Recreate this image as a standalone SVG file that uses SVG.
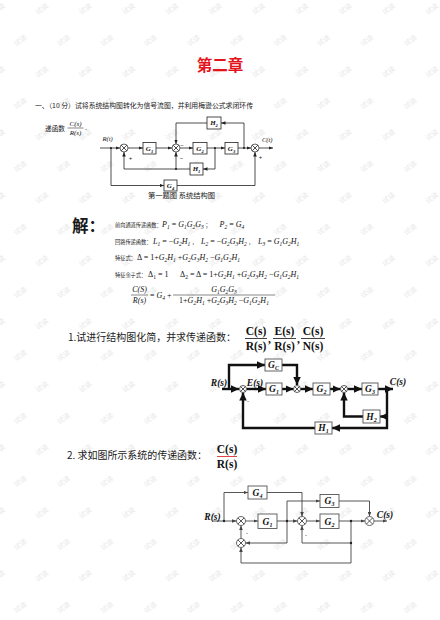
<svg xmlns="http://www.w3.org/2000/svg" width="440" height="620" viewBox="0 0 440 620">
<defs>
<style>
.cn{font-family:"Noto Sans CJK SC","Noto Sans CJK JP",sans-serif;fill:#1a1a1a}
.mi{font-family:"Liberation Serif","DejaVu Serif",serif;font-style:italic;fill:#111}
.up{font-style:normal}
.m8{font-size:8px}
.s8{font-size:5.5px;baseline-shift:-2px}
.m7{font-size:7px}
.s7{font-size:4.8px;baseline-shift:-1.8px}
.lb1{font-family:"Liberation Serif",serif;font-style:italic;font-weight:bold;font-size:7px;text-anchor:middle;fill:#111}
.sl1{font-size:4.6px;baseline-shift:-1.6px}
.lb2{font-family:"Liberation Serif",serif;font-style:italic;font-weight:bold;font-size:9.5px;text-anchor:middle;fill:#111}
.sl2{font-size:6px;baseline-shift:-2.2px}
.hd{font-family:"Liberation Serif",serif;font-weight:bold;font-size:11.5px;text-anchor:middle;fill:#111}
.box1{fill:#fff;stroke:#222;stroke-width:0.8}
.box2{fill:#fff;stroke:#555;stroke-width:0.9}
.box3{fill:#fff;stroke:#555;stroke-width:0.9}
.w1{fill:none;stroke:#222;stroke-width:0.8}
.w2{fill:none;stroke:#111;stroke-width:2.4}
.w3{fill:none;stroke:#444;stroke-width:0.9}
.sum1{fill:#fff;stroke:#222;stroke-width:0.7}
.sum2{fill:#fff;stroke:#333;stroke-width:0.8}
.sum3{fill:#fff;stroke:#444;stroke-width:0.8}
.sg{font-family:"Liberation Sans",sans-serif;font-size:6px;fill:#222;text-anchor:middle}
.dot{fill:#222}
.wm{font-family:"Noto Sans CJK SC",sans-serif;font-size:7px;fill:#e6e6e6;text-anchor:middle;dominant-baseline:central}
</style>
<marker id="a1" viewBox="0 0 10 10" refX="10" refY="5" markerUnits="userSpaceOnUse" markerWidth="4.5" markerHeight="3.6" preserveAspectRatio="none" orient="auto"><path d="M0,0L10,5L0,10z" fill="#222"/></marker>
<marker id="a2" viewBox="0 0 10 10" refX="10" refY="5" markerUnits="userSpaceOnUse" markerWidth="8" markerHeight="7.5" preserveAspectRatio="none" orient="auto"><path d="M0,0L10,5L0,10z" fill="#111"/></marker>
<marker id="a3" viewBox="0 0 10 10" refX="10" refY="5" markerUnits="userSpaceOnUse" markerWidth="4.5" markerHeight="3.6" preserveAspectRatio="none" orient="auto"><path d="M0,0L10,5L0,10z" fill="#444"/></marker>
<pattern id="wmp" patternUnits="userSpaceOnUse" x="0" y="0" width="43.33" height="63">
<text class="wm" transform="translate(20,40) rotate(-35)">试读</text>
<text class="wm" transform="translate(41.67,8.5) rotate(-35)">试读</text>
<text class="wm" transform="translate(-1.67,8.5) rotate(-35)">试读</text>
</pattern>
</defs>
<rect width="440" height="620" fill="#fff"/>
<rect id="watermark" width="440" height="620" fill="url(#wmp)"/>

<text id="title" x="220" y="70.5" text-anchor="middle" font-family="'Noto Sans CJK SC',sans-serif" font-weight="bold" font-size="15.5" fill="#e3141b">第二章</text>

<g id="problem1-text">
<text class="cn" x="35" y="107.5" font-size="6.7" textLength="218" lengthAdjust="spacingAndGlyphs">一、（10 分）试将系统结构图转化为信号流图，并利用梅逊公式求闭环传</text>
<text class="cn" x="45" y="131" font-size="6.7">递函数</text>
<text class="mi m7" x="75.5" y="125.5" text-anchor="middle">C(s)</text>
<line x1="67.5" y1="128" x2="83.5" y2="128" stroke="#111" stroke-width="0.5"/>
<text class="mi m7" x="75.5" y="135" text-anchor="middle">R(s)</text>
<text class="mi m8 up" x="85" y="130">.</text>
</g>

<!-- Diagram 1 -->
<g id="d1-connectors">
<path class="w1" d="M100,148H120" marker-end="url(#a1)"/>
<path class="w1" d="M111,148V185.5H164" marker-end="url(#a1)"/>
<path class="w1" d="M177,185.5H255V152" marker-end="url(#a1)"/>
<path class="w1" d="M128,148H143" marker-end="url(#a1)"/>
<path class="w1" d="M156,148H172" marker-end="url(#a1)"/>
<path class="w1" d="M180,148H193" marker-end="url(#a1)"/>
<path class="w1" d="M207,148H225" marker-end="url(#a1)"/>
<path class="w1" d="M238,148H251" marker-end="url(#a1)"/>
<path class="w1" d="M259,148H273" marker-end="url(#a1)"/>
<path class="w1" d="M244,148V123H221" marker-end="url(#a1)"/>
<path class="w1" d="M207,123H176V144" marker-end="url(#a1)"/>
<path class="w1" d="M215,148V169H203" marker-end="url(#a1)"/>
<path class="w1" d="M190,169H124V152" marker-end="url(#a1)"/>
<path class="w1" d="M176,169V152" marker-end="url(#a1)"/>
<circle class="dot" cx="111" cy="148" r="1.1"/>
<circle class="dot" cx="215" cy="148" r="1.1"/>
<circle class="dot" cx="244" cy="148" r="1.1"/>
<circle class="dot" cx="176" cy="169" r="1.1"/>
</g>
<g id="d1-sum1"><circle class="sum1" cx="124" cy="148" r="4"/><path class="w1" d="M121.2,145.2L126.8,150.8M126.8,145.2L121.2,150.8" stroke-width="0.6"/></g>
<g id="d1-sum2"><circle class="sum1" cx="176" cy="148" r="4"/><path class="w1" d="M173.2,145.2L178.8,150.8M178.8,145.2L173.2,150.8" stroke-width="0.6"/></g>
<g id="d1-sum3"><circle class="sum1" cx="255" cy="148" r="4"/><path class="w1" d="M252.2,145.2L257.8,150.8M257.8,145.2L252.2,150.8" stroke-width="0.6"/></g>
<g id="d1-G1"><rect class="box1" x="143" y="142.5" width="13" height="11.5"/><text class="lb1" x="149.5" y="150.5">G<tspan class="sl1">1</tspan></text></g>
<g id="d1-G2"><rect class="box1" x="193" y="142.5" width="14" height="11.5"/><text class="lb1" x="200" y="150.5">G<tspan class="sl1">2</tspan></text></g>
<g id="d1-G3"><rect class="box1" x="225" y="142.5" width="13" height="11.5"/><text class="lb1" x="231.5" y="150.5">G<tspan class="sl1">3</tspan></text></g>
<g id="d1-H2"><rect class="box1" x="207" y="117" width="14" height="12"/><text class="lb1" x="214" y="125.3">H<tspan class="sl1">2</tspan></text></g>
<g id="d1-H1"><rect class="box1" x="190" y="163" width="13" height="12"/><text class="lb1" x="196.5" y="171.3">H<tspan class="sl1">1</tspan></text></g>
<g id="d1-G4"><rect class="box1" x="164" y="180" width="13" height="11"/><text class="lb1" x="170.5" y="187.8">G<tspan class="sl1">4</tspan></text></g>
<g id="d1-labels">
<text class="mi" font-size="6.5" x="102.5" y="140.5">R(t)</text>
<text class="mi" font-size="6.5" x="262" y="141.5">C(t)</text>
<text class="sg" x="130.5" y="159.5">+</text>
<text class="sg" x="182" y="146.5">−</text>
<text class="sg" x="181.5" y="159.5">−</text>
<text class="sg" x="260.5" y="158.5">+</text>
</g>
<text class="cn" x="148" y="197.5" font-size="7" textLength="67" lengthAdjust="spacingAndGlyphs">第一题图  系统结构图</text>

<!-- Solution -->
<g id="solution">
<text class="cn" x="72" y="232" font-size="16.5" font-weight="bold" fill="#111">解：</text>
<text class="cn" x="115" y="227" font-size="5.2">前向通道传递函数：</text>
<text class="mi m8" x="162" y="227">P<tspan class="s8">1</tspan> <tspan class="up">=</tspan> G<tspan class="s8">1</tspan>G<tspan class="s8">2</tspan>G<tspan class="s8">3</tspan></text>
<text class="cn" x="205.5" y="227" font-size="5.2">；</text>
<text class="mi m8" x="219.5" y="227">P<tspan class="s8">2</tspan> <tspan class="up">=</tspan> G<tspan class="s8">4</tspan></text>

<text class="cn" x="115" y="244" font-size="5.2">回路传递函数：</text>
<text class="mi m8" x="153" y="244">L<tspan class="s8">1</tspan> <tspan class="up">= −</tspan>G<tspan class="s8">2</tspan>H<tspan class="s8">1</tspan></text>
<text class="cn" x="192" y="244" font-size="5.2">，</text>
<text class="mi m8" x="201" y="244">L<tspan class="s8">2</tspan> <tspan class="up">= −</tspan>G<tspan class="s8">2</tspan>G<tspan class="s8">3</tspan>H<tspan class="s8">2</tspan></text>
<text class="cn" x="248.5" y="244" font-size="5.2">，</text>
<text class="mi m8" x="258" y="244">L<tspan class="s8">3</tspan> <tspan class="up">=</tspan> G<tspan class="s8">1</tspan>G<tspan class="s8">2</tspan>H<tspan class="s8">1</tspan></text>

<text class="cn" x="115" y="260" font-size="5.2">特征式：</text>
<text class="mi m8" x="137" y="260"><tspan class="up">Δ = 1+</tspan>G<tspan class="s8">2</tspan>H<tspan class="s8">1</tspan> <tspan class="up">+</tspan>G<tspan class="s8">2</tspan>G<tspan class="s8">3</tspan>H<tspan class="s8">2</tspan> <tspan class="up">−</tspan>G<tspan class="s8">1</tspan>G<tspan class="s8">2</tspan>H<tspan class="s8">1</tspan></text>

<text class="cn" x="115" y="277" font-size="5.2">特征余子式：</text>
<text class="mi m8 up" x="148" y="277">Δ<tspan class="s8">1</tspan> = 1</text>
<text class="mi m8" x="180" y="277"><tspan class="up">Δ</tspan><tspan class="s8 up">2</tspan><tspan class="up"> = Δ = 1+</tspan>G<tspan class="s8">2</tspan>H<tspan class="s8">1</tspan> <tspan class="up">+</tspan>G<tspan class="s8">2</tspan>G<tspan class="s8">3</tspan>H<tspan class="s8">2</tspan> <tspan class="up">−</tspan>G<tspan class="s8">1</tspan>G<tspan class="s8">2</tspan>H<tspan class="s8">1</tspan></text>

<text class="mi m8" x="139.5" y="292" text-anchor="middle">C(S)</text>
<line x1="131" y1="295" x2="148" y2="295" stroke="#111" stroke-width="0.5"/>
<text class="mi m8" x="139.5" y="303" text-anchor="middle">R(s)</text>
<text class="mi m8" x="150" y="297.8"><tspan class="up">=</tspan> G<tspan class="s8">4</tspan><tspan class="up"> +</tspan></text>
<text class="mi m8" x="224" y="292" text-anchor="middle">G<tspan class="s8">1</tspan>G<tspan class="s8">2</tspan>G<tspan class="s8">3</tspan></text>
<line x1="173" y1="295" x2="275" y2="295" stroke="#111" stroke-width="0.5"/>
<text class="mi m8" x="224" y="303" text-anchor="middle"><tspan class="up">1+</tspan>G<tspan class="s8">2</tspan>H<tspan class="s8">1</tspan> <tspan class="up">+</tspan>G<tspan class="s8">2</tspan>G<tspan class="s8">3</tspan>H<tspan class="s8">2</tspan> <tspan class="up">−</tspan>G<tspan class="s8">1</tspan>G<tspan class="s8">2</tspan>H<tspan class="s8">1</tspan></text>
</g>

<!-- Problem 1 -->
<g id="problem2-text">
<text class="cn" x="68" y="341" font-size="10" textLength="168" lengthAdjust="spacingAndGlyphs" fill="#222">1.试进行结构图化简，并求传递函数：</text>
<text class="hd" x="256" y="335">C(s)</text>
<line x1="245" y1="338.5" x2="267" y2="338.5" stroke="#111" stroke-width="0.8"/>
<text class="hd" x="256" y="350">R(s)</text>
<text class="hd" x="269.5" y="342.5">,</text>
<text class="hd" x="284.5" y="335">E(s)</text>
<line x1="273" y1="338.5" x2="296" y2="338.5" stroke="#111" stroke-width="0.8"/>
<text class="hd" x="284.5" y="350">R(s)</text>
<text class="hd" x="298.5" y="342.5">,</text>
<text class="hd" x="313" y="335">C(s)</text>
<line x1="301" y1="338.5" x2="325" y2="338.5" stroke="#111" stroke-width="0.8"/>
<text class="hd" x="313" y="350">N(s)</text>
</g>

<!-- Diagram 2 -->
<g id="d2-connectors">
<path class="w2" d="M222,389H239" marker-end="url(#a2)"/>
<path class="w2" d="M229,389V365H265" marker-end="url(#a2)"/>
<path class="w2" d="M282,365H297V385" marker-end="url(#a2)"/>
<path class="w2" d="M246.5,389H266" marker-end="url(#a2)"/>
<path class="w2" d="M282,389H293.5" marker-end="url(#a2)"/>
<path class="w2" d="M300.5,389H313" marker-end="url(#a2)"/>
<path class="w2" d="M330,389H340.5" marker-end="url(#a2)"/>
<path class="w2" d="M347.5,389H362" marker-end="url(#a2)"/>
<path class="w2" d="M378,389H393" marker-end="url(#a2)"/>
<path class="w2" d="M387,389V428H332" marker-end="url(#a2)"/>
<path class="w2" d="M387,416.5H380" marker-end="url(#a2)"/>
<path class="w2" d="M363,416.5H344V392.5" marker-end="url(#a2)"/>
<path class="w2" d="M315,428H243V392.5" marker-end="url(#a2)"/>
</g>
<g id="d2-sum1"><circle class="sum2" cx="243" cy="389" r="3.5"/><path class="w1" d="M240.5,386.5L245.5,391.5M245.5,386.5L240.5,391.5" stroke-width="0.6"/></g>
<g id="d2-sum2"><circle class="sum2" cx="297" cy="389" r="3.5"/><path class="w1" d="M294.5,386.5L299.5,391.5M299.5,386.5L294.5,391.5" stroke-width="0.6"/></g>
<g id="d2-sum3"><circle class="sum2" cx="344" cy="389" r="3.5"/><path class="w1" d="M341.5,386.5L346.5,391.5M346.5,386.5L341.5,391.5" stroke-width="0.6"/></g>
<g id="d2-Gc"><rect class="box2" x="265" y="359" width="17" height="12"/><text class="lb2" x="273.5" y="368">G<tspan class="sl2">C</tspan></text></g>
<g id="d2-G1"><rect class="box2" x="266" y="383" width="16" height="12"/><text class="lb2" x="274" y="392">G<tspan class="sl2">1</tspan></text></g>
<g id="d2-G2"><rect class="box2" x="313" y="383" width="17" height="12"/><text class="lb2" x="321.5" y="392">G<tspan class="sl2">2</tspan></text></g>
<g id="d2-G3"><rect class="box2" x="362" y="383" width="16" height="12"/><text class="lb2" x="370" y="392">G<tspan class="sl2">3</tspan></text></g>
<g id="d2-H2"><rect class="box2" x="363" y="410" width="17" height="13"/><text class="lb2" x="371.5" y="419.5">H<tspan class="sl2">2</tspan></text></g>
<g id="d2-H1"><rect class="box2" x="315" y="422" width="17" height="12"/><text class="lb2" x="323.5" y="431">H<tspan class="sl2">1</tspan></text></g>
<g id="d2-labels">
<text class="lb2" x="219" y="385.5">R(s)</text>
<text class="lb2" x="255" y="385.5">E(s)</text>
<text class="lb2" x="398" y="385">C(s)</text>
<text class="sg" x="248" y="403">-</text>
</g>

<!-- Problem 2 -->
<g id="problem3-text">
<text class="cn" x="67" y="459" font-size="10" textLength="140" lengthAdjust="spacingAndGlyphs" fill="#222">2. 求如图所示系统的传递函数：</text>
<text class="hd" x="227" y="452.5" font-size="11" fill="#d8141c">C(s)</text>
<line x1="217" y1="456.5" x2="237" y2="456.5" stroke="#d8141c" stroke-width="0.8"/>
<text class="hd" x="227" y="468" font-size="11" fill="#d8141c">R(s)</text>
</g>

<!-- Diagram 3 -->
<g id="d3-connectors">
<path class="w3" d="M212,521H236.5" marker-end="url(#a3)"/>
<path class="w3" d="M224,521V492.5H248" marker-end="url(#a3)"/>
<path class="w3" d="M267,492.5H302V516.5" marker-end="url(#a3)"/>
<path class="w3" d="M245.5,521H258" marker-end="url(#a3)"/>
<path class="w3" d="M277,521H297.5" marker-end="url(#a3)"/>
<path class="w3" d="M287,521V501H320" marker-end="url(#a3)"/>
<path class="w3" d="M287,521V543H245.5" marker-end="url(#a3)"/>
<path class="w3" d="M306.5,521H320" marker-end="url(#a3)"/>
<path class="w3" d="M339,521H365" marker-end="url(#a3)"/>
<path class="w3" d="M339,501H369.5V516.5" marker-end="url(#a3)"/>
<path class="w3" d="M374,521H387" marker-end="url(#a3)"/>
<path class="w3" d="M351,521V543H302V525.5" marker-end="url(#a3)"/>
<path class="w3" d="M351,543V563H241V547.5" marker-end="url(#a3)"/>
<path class="w3" d="M241,538.5V525.5" marker-end="url(#a3)"/>
<circle class="dot" cx="224" cy="521" r="1.2"/>
<circle class="dot" cx="287" cy="521" r="1.2"/>
<circle class="dot" cx="351" cy="521" r="1.2"/>
<circle class="dot" cx="351" cy="543" r="1.2"/>
</g>
<g id="d3-sum1"><circle class="sum3" cx="241" cy="521" r="4.5"/><path class="w3" d="M237.8,517.8L244.2,524.2M244.2,517.8L237.8,524.2" stroke-width="0.7"/></g>
<g id="d3-sum2"><circle class="sum3" cx="302" cy="521" r="4.5"/><path class="w3" d="M298.8,517.8L305.2,524.2M305.2,517.8L298.8,524.2" stroke-width="0.7"/></g>
<g id="d3-sum3"><circle class="sum3" cx="369.5" cy="521" r="4.5"/><path class="w3" d="M366.3,517.8L372.7,524.2M372.7,517.8L366.3,524.2" stroke-width="0.7"/></g>
<g id="d3-sum4"><circle class="sum3" cx="241" cy="543" r="4.5"/><path class="w3" d="M237.8,539.8L244.2,546.2M244.2,539.8L237.8,546.2" stroke-width="0.7"/></g>
<g id="d3-G4"><rect class="box3" x="248" y="486" width="19" height="13"/><text class="lb2" x="257.5" y="495.5">G<tspan class="sl2">4</tspan></text></g>
<g id="d3-G1"><rect class="box3" x="258" y="514" width="19" height="14.5"/><text class="lb2" x="267.5" y="524.5">G<tspan class="sl2">1</tspan></text></g>
<g id="d3-G3"><rect class="box3" x="320" y="494.5" width="19" height="13"/><text class="lb2" x="329.5" y="504">G<tspan class="sl2">3</tspan></text></g>
<g id="d3-G2"><rect class="box3" x="320" y="514" width="19" height="14.5"/><text class="lb2" x="329.5" y="524.5">G<tspan class="sl2">2</tspan></text></g>
<g id="d3-labels">
<text class="lb2" x="212.5" y="520" font-size="10">R(s)</text>
<text class="lb2" x="385" y="517.5" font-size="10">C(s)</text>
<text class="sg" x="247" y="535">-</text>
<text class="sg" x="306" y="537">-</text>
</g>
</svg>
